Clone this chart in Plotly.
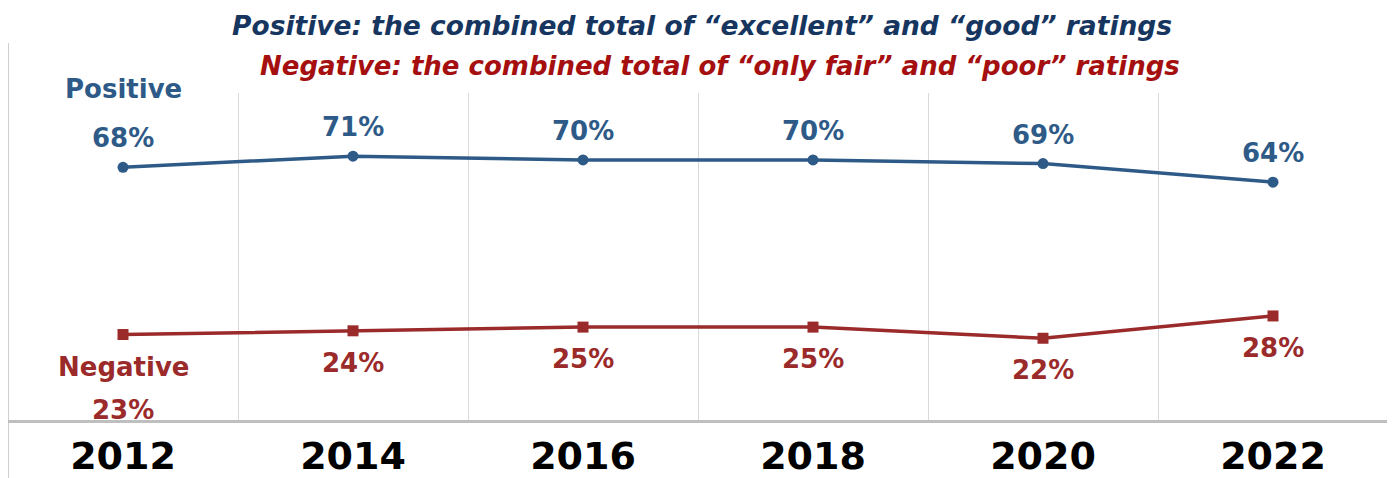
import plotly.graph_objects as go

years = ["2012", "2014", "2016", "2018", "2020", "2022"]
positive = [68, 71, 70, 70, 69, 64]
negative = [23, 24, 25, 25, 22, 28]

title_pos = "Positive: the combined total of “excellent” and “good” ratings"
title_neg = "Negative: the combined total of “only fair” and “poor” ratings"

blue = "#2E5A88"
red = "#9B2A2A"
font = "DejaVu Sans"

W, H = 1395, 478
M = dict(l=0, r=15, t=85, b=66)
plot_w = W - M["l"] - M["r"]
plot_h = H - M["t"] - M["b"]


def paper_y(px):
  # figure pixel (from top) -> paper y
  return (H - M["b"] - px) / plot_h


fig = go.Figure()

fig.add_trace(go.Scatter(
  x=years, y=positive, mode="lines+markers", name="Positive",
  line=dict(color=blue, width=3.5),
  marker=dict(symbol="circle", size=11, color=blue),
  hoverinfo="skip"
))
fig.add_trace(go.Scatter(
  x=years, y=negative, mode="lines+markers", name="Negative",
  line=dict(color=red, width=3.5),
  marker=dict(symbol="square", size=11, color=red),
  hoverinfo="skip"
))

lab_pos = dict(family=font, size=26, color=blue, weight="bold")
lab_neg = dict(family=font, size=26, color=red, weight="bold")

# data labels: positive above, negative below
for i, v in enumerate(positive):
  fig.add_annotation(x=i, y=v, text=f"{v}%", showarrow=False, yanchor="bottom",
                     yshift=12, font=lab_pos)
for i, v in enumerate(negative):
  fig.add_annotation(x=i, y=v, text=f"{v}%", showarrow=False, yanchor="top",
                     yshift=-15 if i else -58, font=lab_neg)

# series names stacked with the first labels
fig.add_annotation(x=0, y=positive[0], text="Positive", showarrow=False,
                   yanchor="bottom", yshift=61, font=lab_pos)
fig.add_annotation(x=0, y=negative[0], text="Negative", showarrow=False,
                   yanchor="top", yshift=-15, font=lab_neg)

fig.add_annotation(x=694 / plot_w, y=paper_y(18), xref="paper", yref="paper", yanchor="middle",
                   text=f"<i>{title_pos}</i>", showarrow=False,
                   font=dict(family=font, size=26.5, color="#17365F", weight="bold"))
fig.add_annotation(x=712 / plot_w, y=paper_y(58), xref="paper", yref="paper", yanchor="middle",
                   text=f"<i>{title_neg}</i>", showarrow=False,
                   font=dict(family=font, size=26, color="#A50F0F", weight="bold"))

# left border line
fig.add_shape(type="line", xref="paper", yref="paper", x0=0, x1=0,
              y0=paper_y(480), y1=paper_y(35),
              line=dict(color="#BFBFBF", width=1.5))

fig.update_layout(
  width=W, height=H,
  margin=M,
  plot_bgcolor="white", paper_bgcolor="white",
  showlegend=False,
  xaxis=dict(type="category", range=[-0.5, 5.5], tickson="boundaries",
             showgrid=True, gridcolor="#D9D9D9", gridwidth=1,
             showline=True, linecolor="#BFBFBF", linewidth=2.5,
             ticks="", ticklabelstandoff=1, automargin=False,
             tickfont=dict(family=font, size=38, color="black", weight="bold")),
  yaxis=dict(range=[0, 88], visible=False, showgrid=False, automargin=False),
)

fig.write_html("out.html")
